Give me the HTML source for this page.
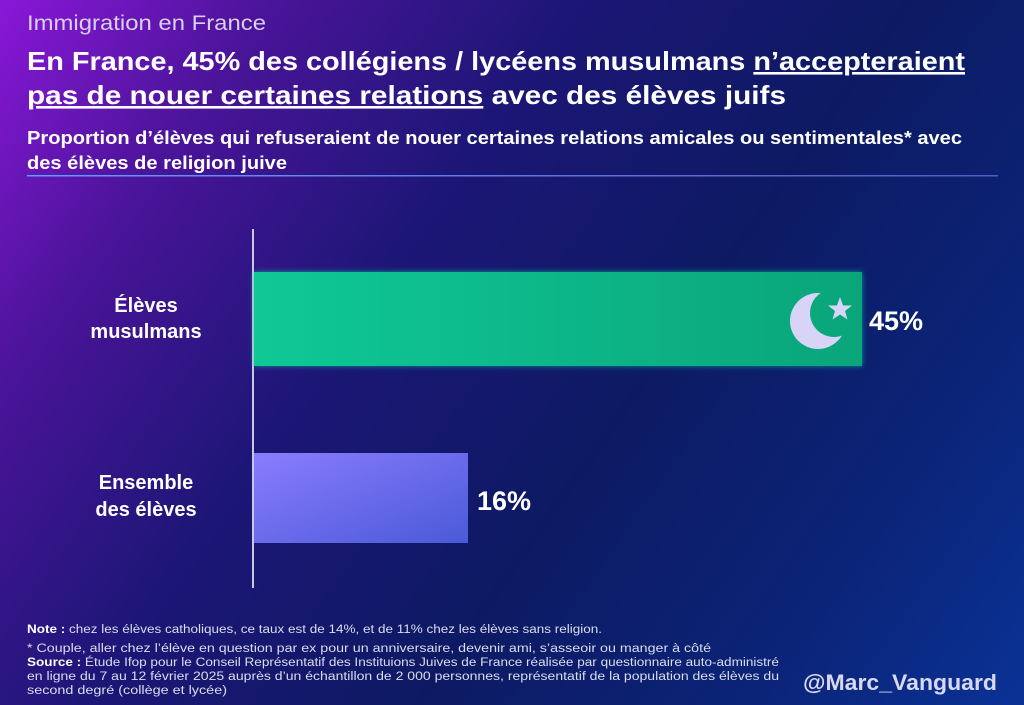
<!DOCTYPE html>
<html><head><meta charset="utf-8"><style>
html,body{margin:0;padding:0;width:1024px;height:705px;overflow:hidden}
body{background:linear-gradient(125deg,#8a17d8 0%,#4a1499 18%,#1c1676 38%,#0d1a63 60%,#0b2478 82%,#0a3296 100%);font-family:"Liberation Sans",sans-serif}
</style></head><body>
<svg width="1024" height="705" xmlns="http://www.w3.org/2000/svg" style="position:absolute;left:0;top:0">
<defs>
<linearGradient id="g1" x1="0" y1="0" x2="1" y2="0"><stop offset="0" stop-color="#0fc896"/><stop offset="1" stop-color="#0aa57a"/></linearGradient>
<linearGradient id="g2" x1="0" y1="0" x2="1" y2="1"><stop offset="0" stop-color="#8a7cff"/><stop offset="1" stop-color="#4a5ad8"/></linearGradient>
<linearGradient id="ln" x1="0" y1="0" x2="1" y2="0"><stop offset="0" stop-color="#5aa0ff"/><stop offset="1" stop-color="#8a7cff" stop-opacity="0.6"/></linearGradient>
<filter id="glow"><feGaussianBlur stdDeviation="3"/></filter>
<mask id="moon"><rect x="760" y="260" width="120" height="120" fill="#fff"/><circle cx="834" cy="313" r="24" fill="#000"/></mask>
</defs>
<g fill="#fff" font-family="Liberation Sans, sans-serif">
<text x="27" y="30" font-size="21" fill="#d8d0f0" textLength="239" lengthAdjust="spacingAndGlyphs">Immigration en France</text>
<text x="27" y="70" font-size="26" font-weight="bold" textLength="938" lengthAdjust="spacingAndGlyphs">En France, 45% des collégiens / lycéens musulmans <tspan text-decoration="underline">n’accepteraient</tspan></text>
<text x="27" y="104" font-size="26" font-weight="bold" textLength="759" lengthAdjust="spacingAndGlyphs"><tspan text-decoration="underline">pas de nouer certaines relations</tspan> avec des élèves juifs</text>
<text x="27" y="144" font-size="18" font-weight="bold" textLength="935" lengthAdjust="spacingAndGlyphs">Proportion d’élèves qui refuseraient de nouer certaines relations amicales ou sentimentales* avec</text>
<text x="27" y="169" font-size="18" font-weight="bold" textLength="260" lengthAdjust="spacingAndGlyphs">des élèves de religion juive</text>
</g>
<rect x="27" y="175" width="971" height="1.5" fill="url(#ln)"/>
<rect x="252" y="229" width="2" height="359" fill="#c8c8e0"/>
<rect x="254" y="272" width="608" height="94" fill="#10e0a8" opacity="0.6" filter="url(#glow)"/>
<rect x="254" y="272" width="608" height="94" fill="url(#g1)"/>
<rect x="254" y="453" width="214" height="90" fill="url(#g2)"/>
<circle cx="818" cy="321" r="28" fill="#d8d4f8" mask="url(#moon)"/>
<polygon points="840,297 843,305.5 852,305.5 845,311 847.5,319.5 840,314.5 832.5,319.5 835,311 828,305.5 837,305.5" fill="#d8d4f8"/>
<g fill="#fff" font-weight="bold" font-family="Liberation Sans, sans-serif">
<text x="869" y="330" font-size="27">45%</text>
<text x="477" y="510" font-size="27">16%</text>
<text x="146" y="312" font-size="20" text-anchor="middle">Élèves</text>
<text x="146" y="338" font-size="20" text-anchor="middle">musulmans</text>
<text x="146" y="489" font-size="20" text-anchor="middle">Ensemble</text>
<text x="146" y="516" font-size="20" text-anchor="middle">des élèves</text>
</g>
<g fill="#dcdcf0" font-size="11.5" font-family="Liberation Sans, sans-serif">
<text x="27" y="633" textLength="575" lengthAdjust="spacingAndGlyphs"><tspan font-weight="bold" fill="#fff">Note :</tspan> chez les élèves catholiques, ce taux est de 14%, et de 11% chez les élèves sans religion.</text>
<text x="27" y="652" textLength="684" lengthAdjust="spacingAndGlyphs">* Couple, aller chez l’élève en question par ex pour un anniversaire, devenir ami, s’asseoir ou manger à côté</text>
<text x="27" y="666" textLength="752" lengthAdjust="spacingAndGlyphs"><tspan font-weight="bold" fill="#fff">Source :</tspan> Étude Ifop pour le Conseil Représentatif des Instituions Juives de France réalisée par questionnaire auto-administré</text>
<text x="27" y="680" textLength="752" lengthAdjust="spacingAndGlyphs">en ligne du 7 au 12 février 2025 auprès d’un échantillon de 2 000 personnes, représentatif de la population des élèves du</text>
<text x="27" y="694" textLength="200" lengthAdjust="spacingAndGlyphs">second degré (collège et lycée)</text>
</g>
<text x="803" y="690" font-size="22" font-weight="bold" fill="#d8d8f0" textLength="194" lengthAdjust="spacingAndGlyphs" font-family="Liberation Sans, sans-serif">@Marc_Vanguard</text>
</svg>
</body></html>
